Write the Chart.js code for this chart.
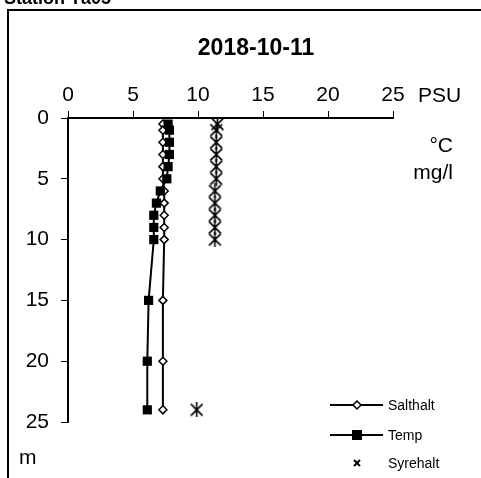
<!DOCTYPE html>
<html>
<head>
<meta charset="utf-8">
<script src="https://cdn.jsdelivr.net/npm/chart.js@4"></script>
<style>
  html, body { margin: 0; padding: 0; background: #fff; }
  canvas { display: block; }
</style>
</head>
<body>
<canvas id="profil" width="481" height="478"></canvas>
<script>
// Djup (m) och värden
const depths = [0.5, 1, 2, 3, 4, 5, 6, 7, 8, 9, 10, 15, 20, 24];
const salthalt = [7.3, 7.3, 7.3, 7.3, 7.3, 7.3, 7.4, 7.4, 7.4, 7.4, 7.4, 7.3, 7.3, 7.3];
const temp = [7.7, 7.8, 7.8, 7.8, 7.7, 7.6, 7.1, 6.8, 6.6, 6.6, 6.6, 6.2, 6.1, 6.1];
const oxyDepths = [0.5, 1, 2, 3, 4, 5, 6, 7, 8, 9, 10, 24];
const syrehalt = [11.5, 11.4, 11.4, 11.4, 11.4, 11.4, 11.3, 11.3, 11.3, 11.3, 11.3, 9.9];
const xTicks = [0, 5, 10, 15, 20, 25];
const yTicks = [0, 5, 10, 15, 20, 25];

const FONT = 'Liberation Sans, Arial, sans-serif';

// asterisk-liknande markör (X med lodrät linje)
function starMarker(size, lw) {
    const c = document.createElement('canvas');
    c.width = size; c.height = size;
    const g = c.getContext('2d');
    g.strokeStyle = '#000';
    g.lineWidth = lw;
    const m = lw;
    g.beginPath();
    g.moveTo(m, m); g.lineTo(size - m, size - m);
    g.moveTo(size - m, m); g.lineTo(m, size - m);
    g.moveTo(size / 2, 0); g.lineTo(size / 2, size);
    g.stroke();
    return c;
}
const starBig = starMarker(15, 1.6);

function toPoints(ys, xs) {
    return ys.map((d, i) => ({ x: xs[i], y: d }));
}

const extras = {
    id: 'extras',
    afterDraw(chart) {
        const c = chart.ctx;
        c.save();
        // ram
        c.strokeStyle = '#000';
        c.lineWidth = 2;
        c.strokeRect(8, 10, 500, 500);
        // titlar
        c.fillStyle = '#000';
        c.font = 'bold 18px ' + FONT;
        c.textAlign = 'left';
        c.textBaseline = 'alphabetic';
        c.fillText('Station Tå05', 4, 4);
        c.font = 'bold 23px ' + FONT;
        c.textAlign = 'center';
        c.fillText('2018-10-11', 256, 55);
        // enheter
        c.font = '21px ' + FONT;
        c.textAlign = 'left';
        c.fillText('PSU', 418, 102);
        c.textAlign = 'right';
        c.fillText('°C', 453, 152);
        c.fillText('mg/l', 453, 179);
        c.textAlign = 'left';
        c.fillText('m', 19, 464);
        // legend
        const rows = [
            { label: 'Salthalt', y: 405, line: true, kind: 'diamond' },
            { label: 'Temp', y: 435, line: true, kind: 'square' },
            { label: 'Syrehalt', y: 463, line: false, kind: 'x' }
        ];
        c.font = '14px ' + FONT;
        c.textBaseline = 'middle';
        c.strokeStyle = '#000';
        rows.forEach(r => {
            const mx = 357;
            if (r.line) {
                c.lineWidth = 2;
                c.beginPath();
                c.moveTo(330, r.y);
                c.lineTo(383, r.y);
                c.stroke();
            }
            if (r.kind === 'diamond') {
                c.fillStyle = '#fff';
                c.lineWidth = 1.5;
                c.beginPath();
                c.moveTo(mx, r.y - 4); c.lineTo(mx + 4, r.y);
                c.lineTo(mx, r.y + 4); c.lineTo(mx - 4, r.y);
                c.closePath();
                c.fill(); c.stroke();
            } else if (r.kind === 'square') {
                c.fillStyle = '#000';
                c.fillRect(mx - 5, r.y - 5, 10, 10);
            } else {
                c.lineWidth = 2;
                c.beginPath();
                c.moveTo(mx - 3, r.y - 3); c.lineTo(mx + 3, r.y + 3);
                c.moveTo(mx + 3, r.y - 3); c.lineTo(mx - 3, r.y + 3);
                c.stroke();
            }
            c.fillStyle = '#000';
            c.fillText(r.label, 388, r.y + 1);
        });
        c.restore();
    }
};

const axisCommon = {
    type: 'linear',
    min: 0,
    max: 25,
    grid: {
        drawOnChartArea: false,
        drawTicks: true,
        tickLength: 7,
        color: '#000',
        lineWidth: 1
    },
    border: { display: true, color: '#000', width: 2 }
};

new Chart(document.getElementById('profil').getContext('2d'), {
    type: 'scatter',
    data: {
        datasets: [
            {
                label: 'Salthalt',
                data: toPoints(depths, salthalt),
                showLine: true,
                borderColor: '#000',
                borderWidth: 2,
                pointStyle: 'rectRot',
                pointRadius: 4,
                pointBorderWidth: 1.5,
                pointBackgroundColor: '#fff',
                pointBorderColor: '#000',
                order: 2
            },
            {
                label: 'Temp',
                data: toPoints(depths, temp),
                showLine: true,
                borderColor: '#000',
                borderWidth: 2,
                pointStyle: 'rect',
                pointRadius: 6.5,
                pointBorderWidth: 0,
                pointBackgroundColor: '#000',
                pointBorderColor: '#000',
                order: 1
            },
            {
                label: 'Syrehalt',
                data: toPoints(oxyDepths, syrehalt),
                showLine: false,
                pointStyle: starBig,
                order: 0
            }
        ]
    },
    options: {
        responsive: false,
        animation: false,
        events: [],
        layout: { padding: { left: 8, right: 88, top: 0, bottom: 56 } },
        plugins: { legend: { display: false }, tooltip: { enabled: false } },
        scales: {
            x: Object.assign({}, axisCommon, {
                position: 'top',
                afterBuildTicks: s => { s.ticks = xTicks.map(v => ({ value: v })); },
                afterFit: s => { s.height = 118; },
                ticks: { color: '#000', font: { family: FONT, size: 21 }, padding: 3, maxRotation: 0 }
            }),
            y: Object.assign({}, axisCommon, {
                position: 'left',
                reverse: true,
                afterBuildTicks: s => { s.ticks = yTicks.map(v => ({ value: v })); },
                afterFit: s => { s.width = 60; },
                ticks: { color: '#000', font: { family: FONT, size: 21 }, padding: 12 }
            })
        }
    },
    plugins: [extras]
});
</script>
</body>
</html>
